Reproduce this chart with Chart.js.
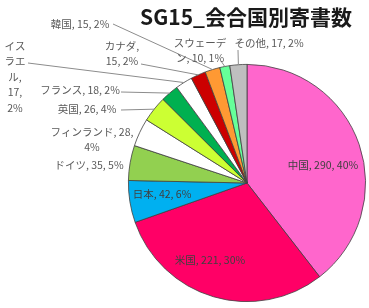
<!DOCTYPE html>
<html lang="ja">
<head>
  <meta charset="UTF-8">
  <title>SG15_会合国別寄書数</title>
  <script src="https://cdn.jsdelivr.net/npm/chart.js"></script>
  <style>
    html, body { margin: 0; padding: 0; background: #fff; }
    #wrap { width: 369px; height: 308px; }
  </style>
</head>
<body>
<div id="wrap"><canvas id="pie" width="369" height="308"></canvas></div>
<script>
  // データ
  const chartTitle = 'SG15_会合国別寄書数';
  const categories = ['中国', '米国', '日本', 'ドイツ', 'フィンランド', '英国', 'フランス', 'イスラエル', 'カナダ', '韓国', 'スウェーデン', 'その他'];
  const counts = [290, 221, 42, 35, 28, 26, 18, 17, 15, 15, 10, 17];
  const sliceColors = ['#FF66CC', '#FF0066', '#00B0F0', '#92D050', '#FFFFFF', '#CCFF33', '#00B050', '#FFFFFF', '#CC0000', '#FF9933', '#66FF99', '#BFBFBF'];

  // ラベルの配置 (inside: スライス内, line: 引き出し線の始点)
  const labelPos = [
    { x: 323, y: 165, inside: true },
    { x: 210, y: 260, inside: true },
    { x: 162, y: 194, inside: true },
    { x: 89,  y: 165 },
    { x: 92,  y: 132, wrap: 92 },
    { x: 87,  y: 109, line: [121, 110] },
    { x: 80,  y: 90,  line: [121, 92] },
    { x: 15,  y: 46,  wrap: 24, line: [28, 63] },
    { x: 122, y: 46,  wrap: 40, line: [141, 64] },
    { x: 80,  y: 24,  line: [113, 24] },
    { x: 200, y: 43,  wrap: 56, line: [221, 61] },
    { x: 269, y: 43,  line: [238, 50] }
  ];

  const total = counts.reduce((a, b) => a + b, 0);

  function wrapText(ctx, text, maxW) {
    if (!maxW) return [text];
    const lines = [];
    let cur = '';
    text.split(' ').forEach(word => {
      const test = cur ? cur + ' ' + word : word;
      if (ctx.measureText(test).width <= maxW) { cur = test; return; }
      if (ctx.measureText(word).width <= maxW) { if (cur) lines.push(cur); cur = word; return; }
      if (cur) { lines.push(cur); cur = ''; }
      for (const ch of word) {
        if (cur && ctx.measureText(cur + ch).width > maxW) { lines.push(cur); cur = ch; }
        else cur += ch;
      }
    });
    if (cur) lines.push(cur);
    return lines;
  }

  // タイトルとデータラベル(引き出し線つき)を描くプラグイン
  const labelPlugin = {
    id: 'pieLabels',
    afterDatasetsDraw(chart) {
      const { ctx } = chart;
      const arcs = chart.getDatasetMeta(0).data;
      ctx.save();

      ctx.font = 'bold 21px "Noto Sans CJK JP", sans-serif';
      ctx.fillStyle = '#1a1a1a';
      ctx.textAlign = 'center';
      ctx.textBaseline = 'middle';
      ctx.fillText(chartTitle, 246, 17);

      ctx.font = '10.5px "Noto Sans CJK JP", sans-serif';
      arcs.forEach((arc, i) => {
        const pos = labelPos[i];
        const p = arc.getProps(['x', 'y', 'startAngle', 'endAngle', 'outerRadius'], true);
        const mid = (p.startAngle + p.endAngle) / 2;
        if (pos.line) {
          ctx.strokeStyle = '#8c8c8c';
          ctx.lineWidth = 1;
          ctx.beginPath();
          ctx.moveTo(pos.line[0], pos.line[1]);
          ctx.lineTo(p.x + Math.cos(mid) * p.outerRadius, p.y + Math.sin(mid) * p.outerRadius);
          ctx.stroke();
        }
        const pct = Math.round(counts[i] / total * 100);
        const text = `${categories[i]}, ${counts[i]}, ${pct}%`;
        const lines = wrapText(ctx, text, pos.wrap);
        ctx.fillStyle = pos.inside ? '#404040' : '#595959';
        lines.forEach((ln, k) => ctx.fillText(ln, pos.x, pos.y + k * 15.5));
      });
      ctx.restore();
    }
  };

  new Chart(document.getElementById('pie'), {
    type: 'pie',
    data: {
      labels: categories,
      datasets: [{
        data: counts,
        backgroundColor: sliceColors,
        borderColor: '#404040',
        borderWidth: 0.8
      }]
    },
    options: {
      responsive: false,
      animation: false,
      layout: { padding: { left: 128, top: 64, right: 3, bottom: 6 } },
      plugins: {
        legend: { display: false },
        title: { display: false },
        tooltip: { enabled: false }
      }
    },
    plugins: [labelPlugin]
  });
</script>
</body>
</html>
